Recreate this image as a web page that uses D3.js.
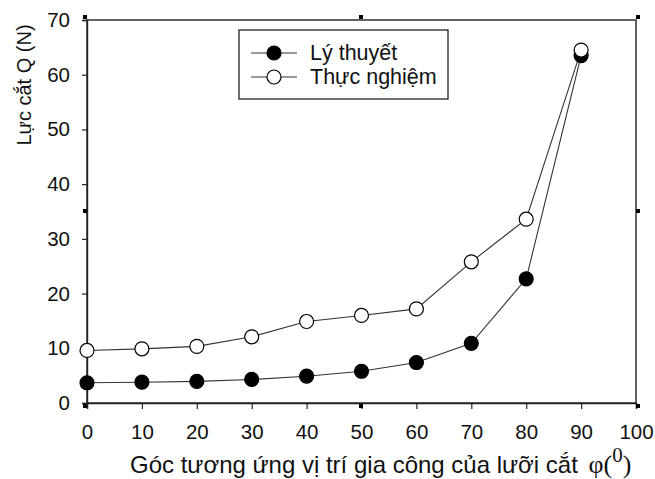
<!DOCTYPE html>
<html>
<head>
<meta charset="utf-8">
<script src="https://cdn.jsdelivr.net/npm/d3@7"></script>
<style>
  html, body { margin: 0; padding: 0; background: #fff; }
  svg { display: block; }
  text { font-family: "Liberation Sans", Arial, sans-serif; fill: #111; }
</style>
</head>
<body>
<svg id="chart" width="655" height="479"></svg>
<script>
// Cutting force Q (N) versus tool edge position angle φ (degrees)
const angles = [0, 10, 20, 30, 40, 50, 60, 70, 80, 90];
const lyThuyet = [3.7, 3.8, 3.95, 4.3, 4.9, 5.8, 7.4, 10.9, 22.7, 63.5];
const thucNghiem = [9.6, 9.9, 10.35, 12.1, 14.9, 16.0, 17.2, 25.8, 33.6, 64.5];
const seriesNames = ["Lý thuyết", "Thực nghiệm"];
const xTicks = [0, 10, 20, 30, 40, 50, 60, 70, 80, 90, 100];
const yTicks = [0, 10, 20, 30, 40, 50, 60, 70];
const xTitle = "Góc tương ứng vị trí gia công của lưỡi cắt";
const yTitle = "Lực cắt Q (N)";

const svg = d3.select("#chart");
const L = 87, R = 636, T = 20, B = 403;

const x = d3.scaleLinear().domain([0, 100]).range([L, R]);
const y = d3.scaleLinear().domain([0, 70]).range([B, T]);

// Frame
svg.append("rect")
  .attr("x", L).attr("y", T).attr("width", R - L).attr("height", B - T)
  .attr("fill", "none").attr("stroke", "#222").attr("stroke-width", 1.4);

// Axes
const xAxis = svg.append("g").attr("transform", `translate(0,${B})`)
  .call(d3.axisBottom(x).tickValues(xTicks).tickSize(6).tickPadding(15).tickFormat(d3.format("d")));
const yAxis = svg.append("g").attr("transform", `translate(${L},0)`)
  .call(d3.axisLeft(y).tickValues(yTicks).tickSize(5).tickPadding(12).tickFormat(d3.format("d")));
[xAxis, yAxis].forEach(a => {
  a.select(".domain").attr("stroke", "#222").attr("stroke-width", 1.4);
  a.selectAll(".tick line").attr("stroke", "#222").attr("stroke-width", 1.2);
  a.selectAll(".tick text").attr("fill", "#111")
    .style("font-family", "'Liberation Sans', Arial, sans-serif").style("font-size", "20.5px");
});

// Small corner / midpoint handles around the frame
const hx = [85, 361, 638], hy = [17, 211, 406];
hx.forEach((px, i) => hy.forEach((py, j) => {
  if (i === 1 && j === 1) return;
  svg.append("rect").attr("x", px - 2).attr("y", py - 2).attr("width", 4).attr("height", 4).attr("fill", "#000");
}));

// Series
const line = d3.line().x(d => x(d[0])).y(d => y(d[1]));
const series = [
  { name: seriesNames[0], values: lyThuyet, fill: "#000" },
  { name: seriesNames[1], values: thucNghiem, fill: "#fff" }
];
series.forEach(s => {
  const pts = angles.map((a, i) => [a, s.values[i]]);
  svg.append("path").datum(pts).attr("d", line)
    .attr("fill", "none").attr("stroke", "#333").attr("stroke-width", 1.1);
});
series.forEach(s => {
  const pts = angles.map((a, i) => [a, s.values[i]]);
  svg.append("g").selectAll("circle").data(pts).join("circle")
    .attr("cx", d => x(d[0])).attr("cy", d => y(d[1])).attr("r", 7)
    .attr("fill", s.fill).attr("stroke", "#000").attr("stroke-width", 1.2);
});

// Legend
const lg = svg.append("g");
lg.append("rect").attr("x", 239).attr("y", 30).attr("width", 209).attr("height", 69)
  .attr("fill", "#fff").attr("stroke", "#222").attr("stroke-width", 1.3);
series.forEach((s, i) => {
  const cy = 53 + i * 24;
  lg.append("line").attr("x1", 251).attr("x2", 297).attr("y1", cy).attr("y2", cy)
    .attr("stroke", "#333").attr("stroke-width", 1.1);
  lg.append("circle").attr("cx", 274).attr("cy", cy).attr("r", 7)
    .attr("fill", s.fill).attr("stroke", "#000").attr("stroke-width", 1.2);
  lg.append("text").attr("x", 310).attr("y", cy + 7).style("font-size", "21.5px").text(s.name);
});

// Axis titles
const serif = "'Liberation Serif', 'Times New Roman', serif";
const xt = svg.append("text").attr("x", 130).attr("y", 473).style("font-size", "24px");
xt.append("tspan").text(xTitle + " ");
xt.append("tspan").attr("dx", 4).style("font-family", serif).style("font-size", "26px").text("φ(");
xt.append("tspan").style("font-family", serif).style("font-size", "21px").attr("dy", -11).text("0");
xt.append("tspan").style("font-family", serif).style("font-size", "26px").attr("dy", 11).text(")");

svg.append("text").attr("transform", "translate(31,85) rotate(-90)")
  .attr("text-anchor", "middle").style("font-size", "20px").text(yTitle);
</script>
</body>
</html>
